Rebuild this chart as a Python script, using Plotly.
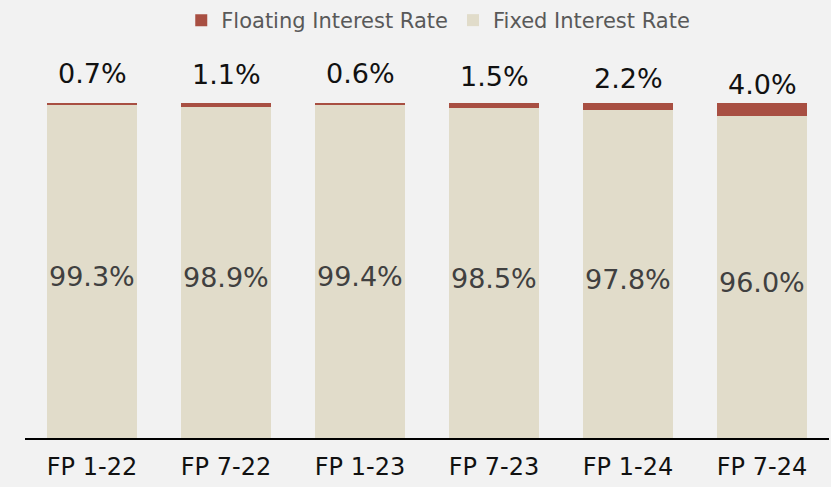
import plotly.graph_objects as go

periods = ["FP 1-22", "FP 7-22", "FP 1-23", "FP 7-23", "FP 1-24", "FP 7-24"]
floating = [0.7, 1.1, 0.6, 1.5, 2.2, 4.0]
fixed = [99.3, 98.9, 99.4, 98.5, 97.8, 96.0]

FONT = "DejaVu Sans"
RED = "#A84F42"
BEIGE = "#E1DCCA"
BG = "#F2F2F2"

fig = go.Figure()
fig.add_trace(go.Bar(
    x=periods, y=fixed, name="Fixed Interest Rate",
    marker=dict(color=BEIGE, line=dict(width=0)),
))
fig.add_trace(go.Bar(
    x=periods, y=floating, name="Floating Interest Rate",
    marker=dict(color=RED, line=dict(width=0)),
))

annotations = []
for p, fx, fl in zip(periods, fixed, floating):
    # floating share, placed just above the stack
    annotations.append(dict(
        x=p, y=fx, xref="x", yref="y", text=f"{fl:.1f}%",
        showarrow=False, yanchor="middle", yshift=32,
        font=dict(family=FONT, size=27, color="#111111"),
    ))
    # fixed share, centred in its segment
    annotations.append(dict(
        x=p, y=fx / 2, xref="x", yref="y", text=f"{fx:.1f}%",
        showarrow=False, yanchor="middle", yshift=-5,
        font=dict(family=FONT, size=27, color="#404040"),
    ))

fig.update_layout(
    width=831, height=487,
    barmode="stack", bargap=0.33,
    paper_bgcolor=BG, plot_bgcolor=BG,
    margin=dict(l=25, r=2, t=50, b=49),
    font=dict(family=FONT),
    showlegend=True,
    legend=dict(
        orientation="h", x=0.514, xanchor="center", y=1.0, yref="container",
        yanchor="top", traceorder="reversed",
        font=dict(family=FONT, size=21, color="#595959"),
        bgcolor="rgba(0,0,0,0)", itemwidth=30,
    ),
    xaxis=dict(
        showline=True, linecolor="#000000", linewidth=2,
        ticks="", showgrid=False, ticklabelstandoff=6,
        tickfont=dict(family=FONT, size=24, color="#111111"),
    ),
    yaxis=dict(visible=False, range=[0, 100 * 388 / 335], showgrid=False),
    annotations=annotations,
)

fig.write_html("out.html")
